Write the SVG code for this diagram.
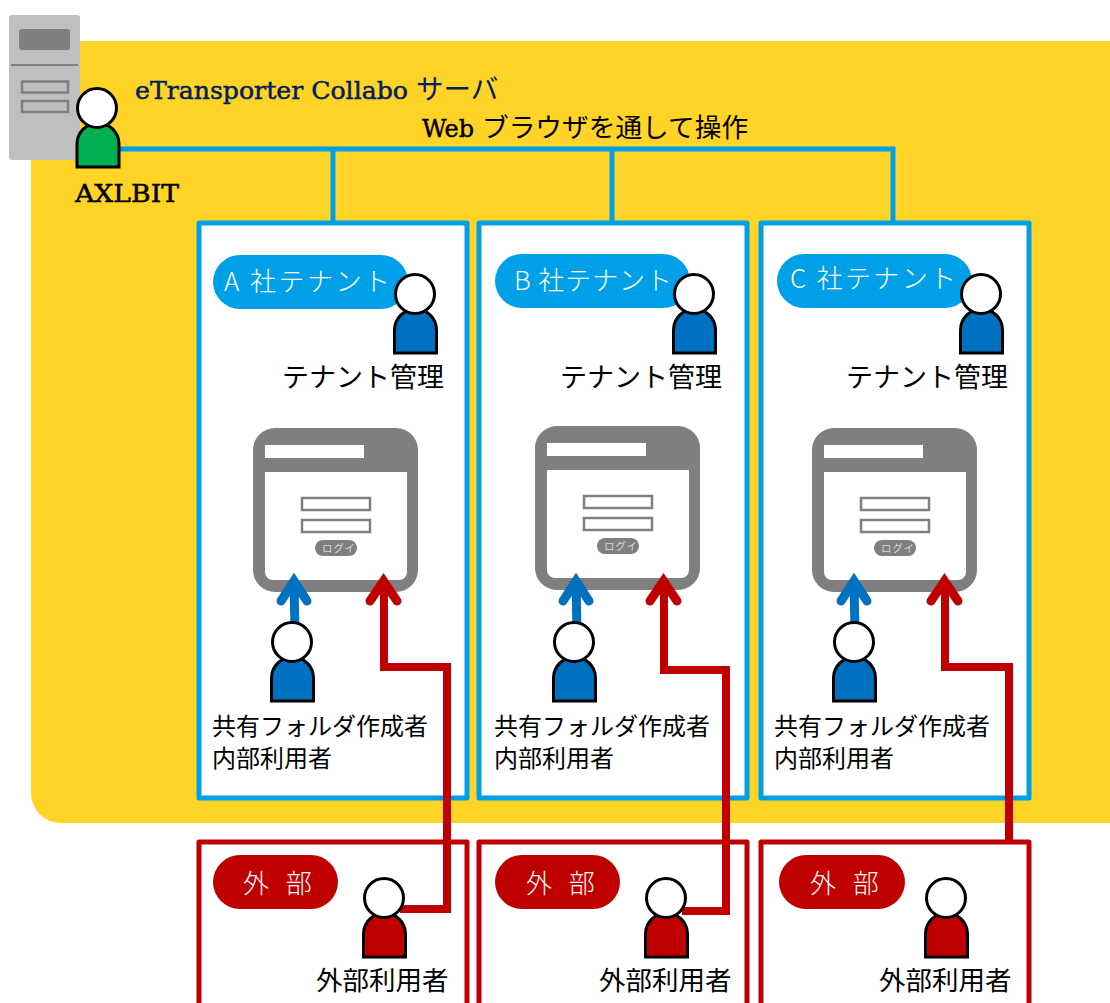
<svg xmlns="http://www.w3.org/2000/svg" xmlns:xlink="http://www.w3.org/1999/xlink" width="1110" height="1003" viewBox="0 0 1110 1003">
<style>
text{font-family:"DejaVu Serif","Noto Sans CJK JP",serif;}
.jp{font-family:"Noto Sans CJK JP",sans-serif;font-weight:400;fill:#000;}
.lat{font-family:"DejaVu Serif","Noto Sans CJK JP",serif;stroke-width:.5;}
.pillt{font-family:"Noto Sans CJK JP",sans-serif;font-weight:300;fill:#fff;font-size:26px;}
.tbox{fill:#fff;stroke:#00A0E9;stroke-width:5;stroke-linejoin:round;}
.xbox{fill:#fff;stroke:#C00000;stroke-width:5;stroke-linejoin:round;}
.bl{fill:none;stroke:#00A0E9;stroke-width:5;}
.rl{fill:none;stroke:#C00000;stroke-width:8;stroke-linejoin:miter;}
.ra{fill:none;stroke:#C00000;stroke-width:9;stroke-linecap:round;stroke-linejoin:miter;}
.ua{fill:none;stroke:#0070C0;stroke-width:9;stroke-linecap:round;stroke-linejoin:miter;}
.gf{fill:#fff;stroke:#7f7f7f;stroke-width:2.5;}
</style>
<defs>
<g id="head"><circle cx="0" cy="0" r="19.5" fill="#fff" stroke="#000" stroke-width="3"/></g>
<path id="body" d="M-21 59V36a21 21 0 0 1 42 0V59Z" stroke="#000" stroke-width="3" stroke-linejoin="miter"/>
<clipPath id="bc"><rect x="0" y="0" width="42" height="16" rx="8"/></clipPath>
<g id="win">
<rect x="0" y="0" width="165" height="164" rx="22" fill="#7f7f7f"/>
<path d="M12 44H154V144a8 8 0 0 1-8 8H20a8 8 0 0 1-8-8Z" fill="#fff"/>
<rect x="12" y="17" width="99" height="13" fill="#fff"/>
<rect x="49" y="70" width="68" height="12" class="gf"/>
<rect x="49" y="92" width="68" height="12" class="gf"/>
<g transform="translate(62,112)"><rect width="42" height="16" rx="8" fill="#7f7f7f"/><g clip-path="url(#bc)"><text x="7" y="12" class="jp" style="fill:#d9d9d9;font-size:10.500px;letter-spacing:.8px">ログイン</text></g></g>
</g>
</defs>
<g id="cloud"><rect x="31" y="41" width="1110" height="782" rx="30" fill="#FFD426"/></g>
<g id="server">
<rect x="9" y="15" width="71" height="145" rx="3" fill="#BFBFBF"/>
<rect x="19" y="29" width="51" height="21" rx="3" fill="#7f7f7f"/>
<rect x="11" y="64" width="67" height="2" fill="#7f7f7f"/>
<rect x="22" y="81.500" width="46" height="11" fill="none" stroke="#7f7f7f" stroke-width="2.500"/>
<rect x="22" y="101" width="46" height="11" fill="none" stroke="#7f7f7f" stroke-width="2.500"/>
</g>
<g id="tenant-a-box"><rect x="199" y="223" width="268" height="575" class="tbox"/></g>
<g id="tenant-b-box"><rect x="479" y="223" width="268" height="575" class="tbox"/></g>
<g id="tenant-c-box"><rect x="761" y="223" width="268" height="575" class="tbox"/></g>
<g id="ext-a-box"><rect x="199" y="842" width="268" height="200" class="xbox"/></g>
<g id="ext-b-box"><rect x="479" y="842" width="268" height="200" class="xbox"/></g>
<g id="ext-c-box"><rect x="761" y="842" width="268" height="200" class="xbox"/></g>
<g id="title"><text x="135" y="99" font-size="25" fill="#002060" stroke="#002060" class="lat" textLength="273" lengthAdjust="spacingAndGlyphs">eTransporter Collabo</text><text x="416" y="99" font-size="27.500" class="jp" style="fill:#002060">サーバ</text>
<text x="422" y="137" font-size="25" fill="#000" stroke="#000" class="lat" textLength="52" lengthAdjust="spacingAndGlyphs">Web</text><text x="482" y="137" font-size="26.700" class="jp">ブラウザを通して操作</text></g>
<g id="connectors">
<path class="bl" d="M119 149H893V223M333 149V223M612 149V223"/>
</g>
<g id="win-a"><use xlink:href="#win" href="#win" x="253" y="428"/></g>
<g id="win-b"><use xlink:href="#win" href="#win" x="535" y="426"/></g>
<g id="win-c"><use xlink:href="#win" href="#win" x="812" y="428"/></g>
<g id="connectors-front">
<path class="ua" d="M295 630L294 585M281 601L294 581L307 601"/>
<path class="ua" d="M577 630L576 585M563 601L576 581L589 601"/>
<path class="ua" d="M855 630L854 585M841 601L854 581L867 601"/>
<path class="rl" d="M384 585V667H447V909H400"/><path class="ra" d="M370 601L383.500 581L397 601"/>
<path class="rl" d="M664 585V670H726V911H682"/><path class="ra" d="M650 601L663.500 581L677 601"/>
<path class="rl" d="M945 585V667H1009V842"/><path class="ra" d="M931 601L944.500 581L958 601"/>
</g>
<g id="axlbit"><use href="#body" xlink:href="#body" x="98" y="108" fill="#00B050"/><use href="#head" xlink:href="#head" x="97" y="108"/><text x="75" y="202" font-size="25" class="lat" fill="#000" stroke="#000" textLength="104" lengthAdjust="spacingAndGlyphs">AXLBIT</text></g>
<g id="tenant-a"><rect x="213" y="255" width="195" height="54" rx="27" fill="#00A0E9"/><text x="224" y="291" class="pillt" textLength="166">A 社テナント</text></g>
<g id="tenant-b"><rect x="495" y="254" width="195" height="54" rx="27" fill="#00A0E9"/><text x="514" y="290" class="pillt" textLength="158">B 社テナント</text></g>
<g id="tenant-c"><rect x="777" y="254" width="195" height="54" rx="27" fill="#00A0E9"/><text x="790" y="288" class="pillt" textLength="166">C 社テナント</text></g>
<g id="admin-a"><use href="#body" xlink:href="#body" x="415.500" y="294" fill="#0070C0"/><use href="#head" xlink:href="#head" x="415" y="294"/><text x="282" y="387" font-size="27" class="jp">テナント管理</text></g>
<g id="admin-b"><use href="#body" xlink:href="#body" x="694.500" y="294" fill="#0070C0"/><use href="#head" xlink:href="#head" x="694" y="294"/><text x="560" y="387" font-size="27" class="jp">テナント管理</text></g>
<g id="admin-c"><use href="#body" xlink:href="#body" x="981.500" y="294" fill="#0070C0"/><use href="#head" xlink:href="#head" x="981" y="294"/><text x="846" y="387" font-size="27" class="jp">テナント管理</text></g>
<g id="user-a"><use href="#body" xlink:href="#body" x="292.500" y="642" fill="#0070C0"/><use href="#head" xlink:href="#head" x="292" y="642"/><text x="212" y="735" font-size="24" class="jp">共有フォルダ作成者</text><text x="212" y="767" font-size="24" class="jp">内部利用者</text></g>
<g id="user-b"><use href="#body" xlink:href="#body" x="574.500" y="642" fill="#0070C0"/><use href="#head" xlink:href="#head" x="574" y="642"/><text x="494" y="735" font-size="24" class="jp">共有フォルダ作成者</text><text x="494" y="767" font-size="24" class="jp">内部利用者</text></g>
<g id="user-c"><use href="#body" xlink:href="#body" x="854.500" y="642" fill="#0070C0"/><use href="#head" xlink:href="#head" x="854" y="642"/><text x="774" y="735" font-size="24" class="jp">共有フォルダ作成者</text><text x="774" y="767" font-size="24" class="jp">内部利用者</text></g>
<g id="ext-a"><rect x="213" y="855" width="125" height="54" rx="27" fill="#C00000"/><text x="243" y="893" class="pillt" word-spacing="11">外 部</text></g>
<g id="ext-b"><rect x="495" y="855" width="125" height="54" rx="27" fill="#C00000"/><text x="526" y="893" class="pillt" word-spacing="11">外 部</text></g>
<g id="ext-c"><rect x="779" y="855" width="126" height="54" rx="27" fill="#C00000"/><text x="810" y="893" class="pillt" word-spacing="11">外 部</text></g>
<g id="extuser-a"><use href="#body" xlink:href="#body" x="384.500" y="898" fill="#C00000"/><use href="#head" xlink:href="#head" x="384" y="898"/><text x="316" y="990" font-size="26.500" class="jp">外部利用者</text></g>
<g id="extuser-b"><use href="#body" xlink:href="#body" x="666.500" y="898" fill="#C00000"/><use href="#head" xlink:href="#head" x="666" y="898"/><text x="599" y="990" font-size="26.500" class="jp">外部利用者</text></g>
<g id="extuser-c"><use href="#body" xlink:href="#body" x="946.500" y="898" fill="#C00000"/><use href="#head" xlink:href="#head" x="946" y="898"/><text x="879" y="990" font-size="26.500" class="jp">外部利用者</text></g>
</svg>
